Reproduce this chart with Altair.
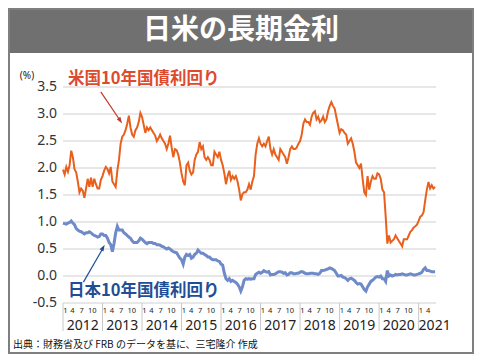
import altair as alt
import pandas as pd

# ---------------- data ----------------
years = list(range(2012, 2022))
month_ticks = [1, 4, 7, 10]

# US 10-year yield, semi-monthly readings (1st, 16th), Jan 2012 - Jun 2021
us_yield = [
    1.97, 1.88, 2.02, 1.93, 2.05, 2.32, 2.20, 1.98, 1.92, 1.75, 1.55, 1.62, 1.58, 1.45, 1.62, 1.80, 1.65, 1.82, 1.65, 1.80, 1.70, 1.62, 1.62, 1.78,
    1.85, 1.95, 2.02, 1.98, 1.90, 2.02, 1.75, 1.70, 1.65, 1.95, 2.15, 2.45, 2.58, 2.62, 2.70, 2.82, 2.97, 2.75, 2.62, 2.58, 2.70, 2.75, 2.85, 3.02,
    2.95, 2.80, 2.65, 2.75, 2.70, 2.75, 2.70, 2.65, 2.60, 2.50, 2.55, 2.62, 2.55, 2.50, 2.45, 2.35, 2.45, 2.60, 2.38, 2.20, 2.35, 2.33, 2.25, 2.10,
    1.90, 1.75, 1.68, 2.05, 2.10, 1.95, 1.88, 1.92, 2.15, 2.25, 2.30, 2.48, 2.35, 2.40, 2.20, 2.15, 2.20, 2.15, 2.05, 2.05, 2.30, 2.25, 2.20, 2.30,
    2.15, 2.05, 1.90, 1.70, 1.85, 1.95, 1.78, 1.85, 1.80, 1.85, 1.75, 1.60, 1.40, 1.52, 1.55, 1.55, 1.60, 1.70, 1.60, 1.75, 1.85, 2.25, 2.45, 2.55,
    2.45, 2.40, 2.45, 2.40, 2.50, 2.58, 2.35, 2.25, 2.35, 2.25, 2.20, 2.15, 2.35, 2.30, 2.25, 2.20, 2.08, 2.20, 2.35, 2.40, 2.35, 2.35, 2.38, 2.45,
    2.50, 2.62, 2.82, 2.90, 2.85, 2.85, 2.80, 2.95, 3.02, 3.05, 2.90, 2.95, 2.85, 2.88, 2.95, 2.85, 2.90, 3.05, 3.15, 3.22, 3.15, 3.10, 2.95, 2.80,
    2.65, 2.72, 2.70, 2.65, 2.62, 2.45, 2.50, 2.55, 2.45, 2.30, 2.10, 2.05, 2.00, 2.08, 1.80, 1.55, 1.50, 1.85, 1.60, 1.75, 1.85, 1.80, 1.80, 1.90,
    1.88, 1.80, 1.60, 1.55, 1.10, 0.60, 0.75, 0.62, 0.65, 0.68, 0.75, 0.70, 0.65, 0.60, 0.55, 0.68, 0.68, 0.68, 0.75, 0.82, 0.85, 0.90, 0.92, 0.95,
    1.02, 1.10, 1.12, 1.18, 1.40, 1.60, 1.74, 1.62, 1.68, 1.62, 1.65,
]

# Japan 10-year yield, same dates
jp_yield = [
    0.98, 0.97, 0.96, 0.98, 0.99, 1.02, 0.98, 0.95, 0.88, 0.85, 0.83, 0.82, 0.80, 0.78, 0.80, 0.80, 0.82, 0.80, 0.77, 0.75, 0.74, 0.72, 0.73, 0.78,
    0.78, 0.75, 0.75, 0.70, 0.62, 0.58, 0.45, 0.60, 0.80, 0.92, 0.85, 0.85, 0.85, 0.80, 0.78, 0.75, 0.72, 0.70, 0.65, 0.62, 0.62, 0.62, 0.65, 0.70,
    0.68, 0.65, 0.62, 0.60, 0.62, 0.62, 0.62, 0.60, 0.60, 0.58, 0.58, 0.57, 0.55, 0.54, 0.52, 0.50, 0.52, 0.50, 0.47, 0.45, 0.44, 0.43, 0.38, 0.33,
    0.30, 0.22, 0.35, 0.40, 0.38, 0.40, 0.33, 0.35, 0.40, 0.42, 0.48, 0.45, 0.42, 0.42, 0.40, 0.38, 0.35, 0.35, 0.32, 0.30, 0.30, 0.30, 0.28, 0.27,
    0.22, 0.20, 0.05, -0.05, -0.08, -0.05, -0.10, -0.08, -0.10, -0.12, -0.15, -0.20, -0.28, -0.20, -0.08, -0.05, -0.06, -0.05, -0.06, -0.05, -0.05, 0.03, 0.05, 0.07,
    0.05, 0.07, 0.10, 0.08, 0.07, 0.08, 0.02, 0.03, 0.03, 0.04, 0.06, 0.08, 0.08, 0.07, 0.05, 0.06, 0.02, 0.03, 0.06, 0.06, 0.04, 0.04, 0.05, 0.05,
    0.07, 0.08, 0.07, 0.05, 0.04, 0.04, 0.05, 0.05, 0.05, 0.04, 0.04, 0.03, 0.05, 0.10, 0.10, 0.11, 0.12, 0.13, 0.15, 0.14, 0.12, 0.10, 0.05, 0.00,
    0.00, 0.01, -0.02, -0.03, -0.05, -0.08, -0.05, -0.04, -0.06, -0.08, -0.12, -0.15, -0.14, -0.15, -0.20, -0.25, -0.28, -0.20, -0.15, -0.10, -0.08, -0.05, -0.02, -0.01,
    -0.02, 0.00, -0.05, -0.05, -0.10, 0.10, 0.00, 0.02, 0.00, 0.01, 0.03, 0.02, 0.03, 0.03, 0.04, 0.03, 0.02, 0.02, 0.03, 0.04, 0.03, 0.02, 0.02, 0.03,
    0.04, 0.05, 0.07, 0.12, 0.15, 0.10, 0.10, 0.09, 0.08, 0.08, 0.08,
]

y_ticks = [-0.5, 0.0, 0.5, 1.0, 1.5, 2.0, 2.5, 3.0, 3.5]
y_tick_labels = ["-0.5", "0.0", "0.5", "1.0", "1.5", "2.0", "2.5", "3.0", "3.5"]

# ---------------- frames ----------------
n = len(us_yield)
t = [2012 + i / 24 for i in range(n)]
us_df = pd.DataFrame({"t": t, "v": us_yield})
jp_df = pd.DataFrame({"t": t, "v": jp_yield})
ytick_df = pd.DataFrame({"v": y_ticks, "label": y_tick_labels})

# where the month labels sit inside each year box (fraction of the year)
month_offset = {1: 0.06, 4: 0.24, 7: 0.47, 10: 0.74}

sep_df = pd.DataFrame({"t": years})
year_df = pd.DataFrame({"t": [y + 0.5 for y in years[:-1]], "label": [str(y) for y in years[:-1]]})
last_year_df = pd.DataFrame({"t": [years[-1]], "label": [str(years[-1])]})
mrows = []
for y in years:
    for m in month_ticks:
        if y == years[-1] and m > 4:
            continue
        mrows.append({"t": y + month_offset[m], "label": str(m)})
month_df = pd.DataFrame(mrows)

# ---------------- layout ----------------
W, H = 373, 216
PL, PT, PR, PB = 55, 79, 38, 51
JP_FONT = "Noto Sans CJK JP"

xs = alt.Scale(domain=[2012, 2021.44], nice=False, zero=False)
ys = alt.Scale(domain=[-0.5, 3.5], nice=False, zero=False)
one = alt.Data(values=[{}])

grid = alt.Chart(ytick_df).mark_rule(color="#cfcfcf", strokeWidth=1).encode(
    y=alt.Y("v:Q", scale=ys, axis=None), x=alt.value(0), x2=alt.value(W))
ylabels = alt.Chart(ytick_df).mark_text(font="Noto Sans", fontSize=14, color="#333333",
                                        align="right", baseline="middle").encode(
    y=alt.Y("v:Q", scale=ys, axis=None), x=alt.value(-6), text="label:N")

us_line = alt.Chart(us_df).mark_line(color="#E8601C", strokeWidth=2).encode(
    x=alt.X("t:Q", scale=xs, axis=None), y=alt.Y("v:Q", scale=ys, axis=None))
jp_line = alt.Chart(jp_df).mark_line(color="#6E8AC8", strokeWidth=3).encode(
    x=alt.X("t:Q", scale=xs, axis=None), y=alt.Y("v:Q", scale=ys, axis=None))

seps = alt.Chart(sep_df).mark_rule(color="#c8c8c8", strokeWidth=1).encode(
    x=alt.X("t:Q", scale=xs), y=alt.value(H), y2=alt.value(H + 28))
month_txt = alt.Chart(month_df).mark_text(fontSize=7.5, font="Noto Sans", color="#222222",
                                          baseline="middle", align="center").encode(
    x=alt.X("t:Q", scale=xs), y=alt.value(H + 8), text="label:N")
year_txt = alt.Chart(year_df).mark_text(fontSize=14, font="Noto Sans", color="#222222",
                                        baseline="middle", align="center").encode(
    x=alt.X("t:Q", scale=xs), y=alt.value(H + 23), text="label:N")
last_year_txt = alt.Chart(last_year_df).mark_text(fontSize=14, font="Noto Sans", color="#222222",
                                                  baseline="middle", align="left").encode(
    x=alt.X("t:Q", scale=xs), y=alt.value(H + 23), text="label:N")

title_bar = alt.Chart(one).mark_rect(color="#707070").encode(
    x=alt.value(-PL), x2=alt.value(W + PR), y=alt.value(-PT), y2=alt.value(-PT + 45))
title_txt = alt.Chart(one).mark_text(text="日米の長期金利", font=JP_FONT, fontSize=28, fontWeight="bold",
                                     color="white", align="center", baseline="middle").encode(
    x=alt.value(178), y=alt.value(-56))
border = alt.Chart(one).mark_rect(fillOpacity=0, stroke="#7f7f7f", strokeWidth=2).encode(
    x=alt.value(-PL + 1), x2=alt.value(W + PR - 1), y=alt.value(-PT + 1), y2=alt.value(H + PB - 1))

pct_txt = alt.Chart(one).mark_text(text="(%)", font="Noto Sans", fontSize=10, color="#222222",
                                   align="center", baseline="middle").encode(
    x=alt.value(-36), y=alt.value(-11))

us_label = alt.Chart(one).mark_text(text="米国10年国債利回り", font=JP_FONT, fontSize=16.5,
                                    fontWeight="bold", color="#DE4A2C", align="left",
                                    baseline="middle").encode(x=alt.value(5), y=alt.value(-8))
us_arrow = alt.Chart(one).mark_rule(color="#C0392B", strokeWidth=1.2).encode(
    x=alt.value(37.8), x2=alt.value(57.5), y=alt.value(4.8), y2=alt.value(34))
us_head = alt.Chart(one).mark_point(shape="M0,0L-0.55,1.6L0.55,1.6Z", filled=True, size=64,
                                    color="#C0392B", opacity=1, angle=146).encode(
    x=alt.value(59.1), y=alt.value(36.4))

jp_label = alt.Chart(one).mark_text(text="日本10年国債利回り", font=JP_FONT, fontSize=16.5,
                                    fontWeight="bold", color="#1F4E96", align="left",
                                    baseline="middle").encode(x=alt.value(5), y=alt.value(204))
jp_arrow = alt.Chart(one).mark_rule(color="#1F4E96", strokeWidth=1.2).encode(
    x=alt.value(20.4), x2=alt.value(40.4), y=alt.value(195.1), y2=alt.value(160.5))
jp_head = alt.Chart(one).mark_point(shape="M0,0L-0.55,1.6L0.55,1.6Z", filled=True, size=64,
                                    color="#1F4E96", opacity=1, angle=29.7).encode(
    x=alt.value(41.7), y=alt.value(157.8))

footer = alt.Chart(one).mark_text(text="出典：財務省及び FRB のデータを基に、三宅隆介 作成", font=JP_FONT,
                                  fontSize=10, color="#111111", align="left", baseline="middle").encode(
    x=alt.value(-PL + 5), y=alt.value(258))

chart = alt.layer(
    title_bar, title_txt, grid, ylabels, us_line, jp_line, seps, month_txt, year_txt, last_year_txt,
    pct_txt, us_label, us_arrow, us_head, jp_label, jp_arrow, jp_head, footer, border,
).properties(
    width=W, height=H,
    autosize=alt.AutoSizeParams(type="none"),
    padding={"left": PL, "top": PT, "right": PR, "bottom": PB},
    background="white",
).configure_view(stroke=None)

chart.save("out.html", embed_options={"renderer": "svg", "actions": False})
